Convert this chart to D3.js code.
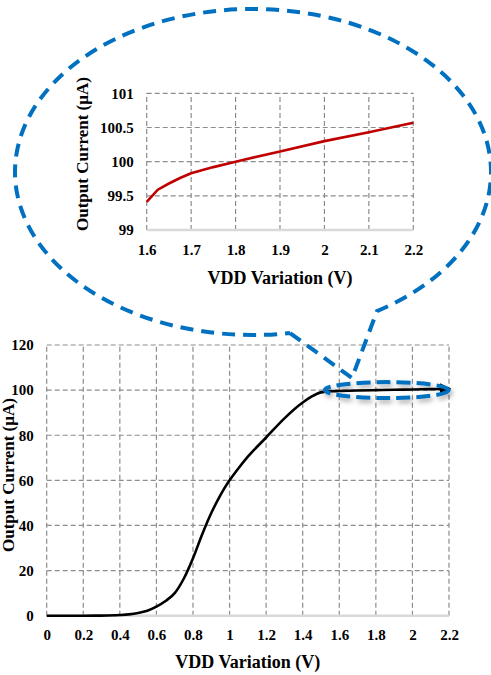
<!DOCTYPE html>
<html>
<head>
<meta charset="utf-8">
<script src="https://cdn.jsdelivr.net/npm/d3@7"></script>
<style>
  body { margin: 0; background: #fff; }
  svg { display: block; font-family: "Liberation Serif", "Times New Roman", Times, serif; font-weight: bold; }
  svg text { font-family: "Liberation Serif", "Times New Roman", Times, serif !important; font-weight: bold; }
</style>
</head>
<body>
<div id="chart"></div>
<script>
// Main sweep: VDD (V) vs output current (uA)
const mainVdd = [0, 0.1, 0.2, 0.3, 0.4, 0.45, 0.5, 0.55, 0.6, 0.65, 0.7, 0.75, 0.8, 0.85, 0.9, 0.95, 1.0, 1.05, 1.1, 1.2, 1.3, 1.4, 1.45, 1.5, 1.55, 1.6, 1.7, 1.8, 1.9, 2.0, 2.1, 2.2];
const mainCurrent = [0, 0, 0, 0.05, 0.3, 0.6, 1.2, 2.2, 4, 6.5, 10, 16.5, 25.5, 36, 45.5, 53.5, 60, 65.5, 70.5, 79, 87.5, 94.5, 97.2, 99, 99.5, 99.6, 99.8, 100, 100.15, 100.3, 100.45, 100.6];
const mainXTicks = [0, 0.2, 0.4, 0.6, 0.8, 1, 1.2, 1.4, 1.6, 1.8, 2, 2.2];
const mainYTicks = [0, 20, 40, 60, 80, 100, 120];

// Zoomed region 1.6 - 2.2 V
const insetVdd = [1.6, 1.625, 1.65, 1.675, 1.7, 1.75, 1.8, 1.9, 2.0, 2.1, 2.2];
const insetCurrent = [99.41, 99.59, 99.68, 99.76, 99.83, 99.92, 100.0, 100.15, 100.3, 100.43, 100.57];
const insetXTicks = [1.6, 1.7, 1.8, 1.9, 2, 2.1, 2.2];
const insetYTicks = [99, 99.5, 100, 100.5, 101];

// Highlighted window on the main curve (center V, center uA)
const zoomWindow = [1.86, 100];

const width = 491;
const height = 675;
const blue = '#0070c0';
const gridColor = '#8c8c8c';
const serif = '"Liberation Serif", "Times New Roman", Times, serif';

const svg = d3.select('#chart').append('svg')
  .attr('width', width)
  .attr('height', height);

const defs = svg.append('defs');
defs.append('marker')
  .attr('id', 'arrow')
  .attr('viewBox', '0 0 10 10')
  .attr('refX', 8)
  .attr('refY', 5)
  .attr('markerWidth', 4.5)
  .attr('markerHeight', 4.5)
  .attr('orient', 'auto')
  .append('path')
  .attr('d', 'M0,0 L10,5 L0,10 z')
  .attr('fill', '#000');

const shadow = defs.append('filter')
  .attr('id', 'shadow')
  .attr('x', '-20%').attr('y', '-100%')
  .attr('width', '140%').attr('height', '300%');
shadow.append('feDropShadow')
  .attr('dx', 2).attr('dy', 3)
  .attr('stdDeviation', 2.5)
  .attr('flood-color', '#000')
  .attr('flood-opacity', 0.35);

// Draw a grid + axes block
function drawPanel(g, x, y, xTicks, yTicks) {
  // vertical grid
  g.append('g').selectAll('line')
    .data(xTicks)
    .enter()
    .append('line')
    .attr('x1', d => x(d)).attr('x2', d => x(d))
    .attr('y1', y.range()[0]).attr('y2', y.range()[1])
    .attr('stroke', gridColor)
    .attr('stroke-width', 1.2)
    .attr('stroke-dasharray', '5,3');

  // horizontal grid (skip the baseline)
  g.append('g').selectAll('line')
    .data(yTicks.slice(1))
    .enter()
    .append('line')
    .attr('x1', x.range()[0]).attr('x2', x.range()[1])
    .attr('y1', d => y(d)).attr('y2', d => y(d))
    .attr('stroke', gridColor)
    .attr('stroke-width', 1.2)
    .attr('stroke-dasharray', '5,3');

  // baseline
  g.append('line')
    .attr('x1', x.range()[0]).attr('x2', x.range()[1])
    .attr('y1', y.range()[0]).attr('y2', y.range()[0])
    .attr('stroke', '#d9d9d9')
    .attr('stroke-width', 2.5);

  // x tick labels
  const xAxis = g.append('g')
    .attr('transform', `translate(0,${y.range()[0] + 11})`)
    .call(d3.axisBottom(x).tickValues(xTicks).tickFormat(d => d).tickSize(0));
  xAxis.attr('font-family', serif).attr('font-size', 15);
  xAxis.select('.domain').remove();
  xAxis.selectAll('text').attr('fill', '#000');

  // y tick labels
  const yAxis = g.append('g')
    .attr('transform', `translate(${x.range()[0] - 13},0)`)
    .call(d3.axisLeft(y).tickValues(yTicks).tickFormat(d => d).tickSize(0).tickPadding(0));
  yAxis.attr('font-family', serif).attr('font-size', 15);
  yAxis.select('.domain').remove();
  yAxis.selectAll('text').attr('fill', '#000');
}

// ---- Main chart ----
const mx = d3.scaleLinear().domain([0, 2.2]).range([46.7, 449]);
const my = d3.scaleLinear().domain([0, 120]).range([615.7, 345]);
const mainG = svg.append('g');
drawPanel(mainG, mx, my, mainXTicks, mainYTicks);

mainG.append('path')
  .datum(d3.zip(mainVdd, mainCurrent))
  .attr('d', d3.line().x(d => mx(d[0])).y(d => my(d[1])).curve(d3.curveMonotoneX))
  .attr('fill', 'none')
  .attr('stroke', '#000')
  .attr('stroke-width', 2.6)
  .attr('marker-end', 'url(#arrow)');

mainG.append('text')
  .text('VDD Variation (V)')
  .attr('x', (mx.range()[0] + mx.range()[1]) / 2)
  .attr('y', 668)
  .attr('text-anchor', 'middle')
  .style('font-size', '18px');

mainG.append('text')
  .text('Output Current (µA)')
  .attr('transform', 'translate(14,475) rotate(-90)')
  .attr('text-anchor', 'middle')
  .style('font-size', '17px');

// ---- Inset chart ----
const ix = d3.scaleLinear().domain([1.6, 2.2]).range([146.7, 413.3]);
const iy = d3.scaleLinear().domain([99, 101]).range([230, 93.3]);
const insetG = svg.append('g');
drawPanel(insetG, ix, iy, insetXTicks, insetYTicks);

insetG.append('path')
  .datum(d3.zip(insetVdd, insetCurrent))
  .attr('d', d3.line().x(d => ix(d[0])).y(d => iy(d[1])))
  .attr('fill', 'none')
  .attr('stroke', '#c00000')
  .attr('stroke-width', 2.6);

insetG.append('text')
  .text('VDD Variation (V)')
  .attr('x', (ix.range()[0] + ix.range()[1]) / 2)
  .attr('y', 284)
  .attr('text-anchor', 'middle')
  .style('font-size', '18px');

insetG.append('text')
  .text('Output Current (µA)')
  .attr('transform', 'translate(88,154) rotate(-90)')
  .attr('text-anchor', 'middle')
  .style('font-size', '17px');

// ---- Callout bubble ----
const bubble = {cx: 253, cy: 172, rx: 238, ry: 163};
const yOn = xv => bubble.cy + bubble.ry * Math.sqrt(1 - ((xv - bubble.cx) / bubble.rx) ** 2);
const tip = [352, 378];
const aX = 290, bX = 377;
svg.append('path')
  .attr('d', `M${aX},${yOn(aX)} L${tip[0]},${tip[1]} L${bX},${yOn(bX)}
    A${bubble.rx},${bubble.ry} 0 1 0 ${aX},${yOn(aX)}`)
  .attr('fill', 'none')
  .attr('stroke', blue)
  .attr('stroke-width', 4)
  .attr('stroke-dasharray', '13,8');

// small ellipse around the flat region
svg.append('ellipse')
  .attr('cx', mx(zoomWindow[0]))
  .attr('cy', my(zoomWindow[1]))
  .attr('rx', 62)
  .attr('ry', 8)
  .attr('fill', 'none')
  .attr('stroke', blue)
  .attr('stroke-width', 4)
  .attr('stroke-dasharray', '14,6')
  .attr('filter', 'url(#shadow)');
</script>
</body>
</html>
